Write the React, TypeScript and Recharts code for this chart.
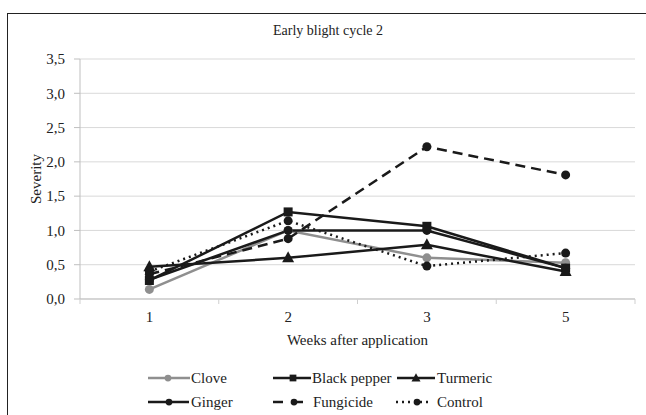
import React from 'react';
import { LineChart, Line, XAxis, YAxis, CartesianGrid, Legend } from 'recharts';

const weeks = ['1', '2', '3', '5'];
const clove = [0.14, 1.0, 0.6, 0.53];
const blackPepper = [0.27, 1.27, 1.06, 0.45];
const turmeric = [0.47, 0.6, 0.79, 0.4];
const ginger = [0.28, 1.0, 1.0, 0.45];
const fungicide = [0.36, 0.88, 2.22, 1.81];
const control = [0.4, 1.14, 0.48, 0.67];
const yTicks = [0, 0.5, 1, 1.5, 2, 2.5, 3, 3.5];

const data = weeks.map((w, i) => ({
  week: w,
  clove: clove[i],
  blackPepper: blackPepper[i],
  turmeric: turmeric[i],
  ginger: ginger[i],
  fungicide: fungicide[i],
  control: control[i],
}));

const FONT = '"Liberation Serif", "Times New Roman", serif';
const DARK = '#1a1a1a';
const GRAY = '#8f8f8f';
const TXT = '#222';

type Marker = 'circle' | 'square' | 'triangle';

const drawMarker = (m: Marker, cx: number, cy: number, color: string, s: number, key?: any) => {
  if (m === 'square') return <rect key={key} x={cx - 4.5 * s} y={cy - 4.5 * s} width={9 * s} height={9 * s} fill={color} />;
  if (m === 'triangle')
    return (
      <polygon
        key={key}
        points={`${cx},${cy - 6.5 * s} ${cx + 6 * s},${cy + 4.5 * s} ${cx - 6 * s},${cy + 4.5 * s}`}
        fill={color}
      />
    );
  return <circle key={key} cx={cx} cy={cy} r={4.5 * s} fill={color} />;
};

const dotFn = (m: Marker, color: string) => (props: any) => {
  const { cx, cy, index } = props;
  if (cx == null || cy == null) return <g key={index} />;
  return drawMarker(m, cx, cy, color, 1, index);
};

const series = [
  { key: 'clove', name: 'Clove', color: GRAY, marker: 'circle' as Marker, dash: undefined as string | undefined },
  { key: 'blackPepper', name: 'Black pepper', color: DARK, marker: 'square' as Marker, dash: undefined },
  { key: 'turmeric', name: 'Turmeric', color: DARK, marker: 'triangle' as Marker, dash: undefined },
  { key: 'ginger', name: 'Ginger', color: DARK, marker: 'circle' as Marker, dash: undefined },
  { key: 'fungicide', name: 'Fungicide', color: DARK, marker: 'circle' as Marker, dash: '10 6' },
  { key: 'control', name: 'Control', color: DARK, marker: 'circle' as Marker, dash: '2 4' },
];

const legendPos = [
  { x: 148, y: 13, len: 42, mx: 168, tx: 191 },
  { x: 273, y: 13, len: 38, mx: 293, tx: 312 },
  { x: 397, y: 13, len: 38, mx: 416, tx: 437 },
  { x: 148, y: 37, len: 41, mx: 169, tx: 191 },
  { x: 273, y: 37, len: 30, mx: 294, tx: 313 },
  { x: 396, y: 37, len: 34, mx: 417, tx: 437 },
];

const LegendContent = () => (
  <svg width={646} height={50} style={{ display: 'block' }}>
    {series.map((s, i) => {
      const p = legendPos[i];
      return (
        <g key={s.key}>
          {s.key === 'fungicide' ? (
            <g>
              <line x1={p.x} x2={p.x + 10} y1={p.y} y2={p.y} stroke={s.color} strokeWidth={2.5} />
              <line x1={p.x + 24} x2={p.x + 30} y1={p.y} y2={p.y} stroke={s.color} strokeWidth={2.5} />
            </g>
          ) : (
            <line
              x1={p.x}
              x2={p.x + p.len}
              y1={p.y}
              y2={p.y}
              stroke={s.color}
              strokeWidth={2.5}
              strokeDasharray={s.dash}
            />
          )}
          {drawMarker(s.marker, p.mx, p.y, s.color, 0.75)}
          <text x={p.tx} y={p.y} dy="0.35em" fontFamily={FONT} fontSize={15} fill={TXT}>
            {s.name}
          </text>
        </g>
      );
    })}
  </svg>
);

const fmt = (v: number) => v.toFixed(1).replace('.', ',');

const XTick = (props: any) => {
  const { x, y, payload, index, visibleTicksCount } = props;
  const off = payload.offset || 0;
  const last = index === (visibleTicksCount || 4) - 1;
  return (
    <g>
      <line x1={x - off} x2={x - off} y1={y} y2={y + 5} stroke="#cfcfcf" />
      {last && <line x1={x + off} x2={x + off} y1={y} y2={y + 5} stroke="#cfcfcf" />}
      <text x={x} y={y + 23} textAnchor="middle" fontFamily={FONT} fontSize={15} fill={TXT}>
        {payload.value}
      </text>
    </g>
  );
};

export default function App() {
  return (
    <div
      style={{
        position: 'absolute',
        left: 0,
        top: 0,
        width: 646,
        height: 415,
        background: '#fff',
        overflow: 'hidden',
        fontFamily: FONT,
      }}
    >
      <div
        style={{
          position: 'absolute',
          left: 7,
          top: 13,
          width: 660,
          height: 420,
          border: '1.8px solid #222',
          boxSizing: 'border-box',
        }}
      />
      <div
        style={{
          position: 'absolute',
          top: 22,
          left: 0,
          width: 656,
          textAlign: 'center',
          fontFamily: FONT,
          fontSize: 14,
          color: TXT,
          lineHeight: '18px',
        }}
      >
        Early blight cycle 2
      </div>
      <div style={{ position: 'absolute', left: 0, top: 0 }}>
        <LineChart
          width={646}
          height={415}
          data={data}
          margin={{ top: 59, right: 11, bottom: 6, left: 0 }}
          style={{ fontFamily: FONT }}
        >
          <CartesianGrid vertical={false} stroke="#d9d9d9" strokeWidth={1} />
          <XAxis
            dataKey="week"
            scale="band"
            axisLine={{ stroke: '#bfbfbf' }}
            tickLine={false}
            tickSize={0}
            tickMargin={0}
            tick={<XTick />}
            height={50}
            label={{
              value: 'Weeks after application',
              position: 'insideBottom',
              offset: 4,
              fontFamily: FONT,
              fontSize: 15,
              fill: TXT,
            }}
          />
          <YAxis
            domain={[0, 3.5]}
            ticks={yTicks}
            tickFormatter={fmt}
            width={80}
            axisLine={{ stroke: '#bfbfbf' }}
            tickLine={{ stroke: '#bfbfbf' }}
            tickSize={6}
            tickMargin={9}
            tick={{ fontFamily: FONT, fontSize: 15, fill: TXT }}
            label={{
              value: 'Severity',
              angle: -90,
              position: 'center',
              dx: -4,
              fontFamily: FONT,
              fontSize: 15,
              fill: TXT,
            }}
          />
          <Legend
            verticalAlign="bottom"
            height={60}
            content={() => <LegendContent />}
            wrapperStyle={{ position: 'absolute', left: 0, top: 365, width: 646 }}
          />
          {series.map((s) => (
            <Line
              key={s.key}
              dataKey={s.key}
              name={s.name}
              stroke={s.color}
              strokeWidth={2.5}
              strokeDasharray={s.dash}
              dot={dotFn(s.marker, s.color)}
              activeDot={false}
              isAnimationActive={false}
            />
          ))}
        </LineChart>
      </div>
    </div>
  );
}
